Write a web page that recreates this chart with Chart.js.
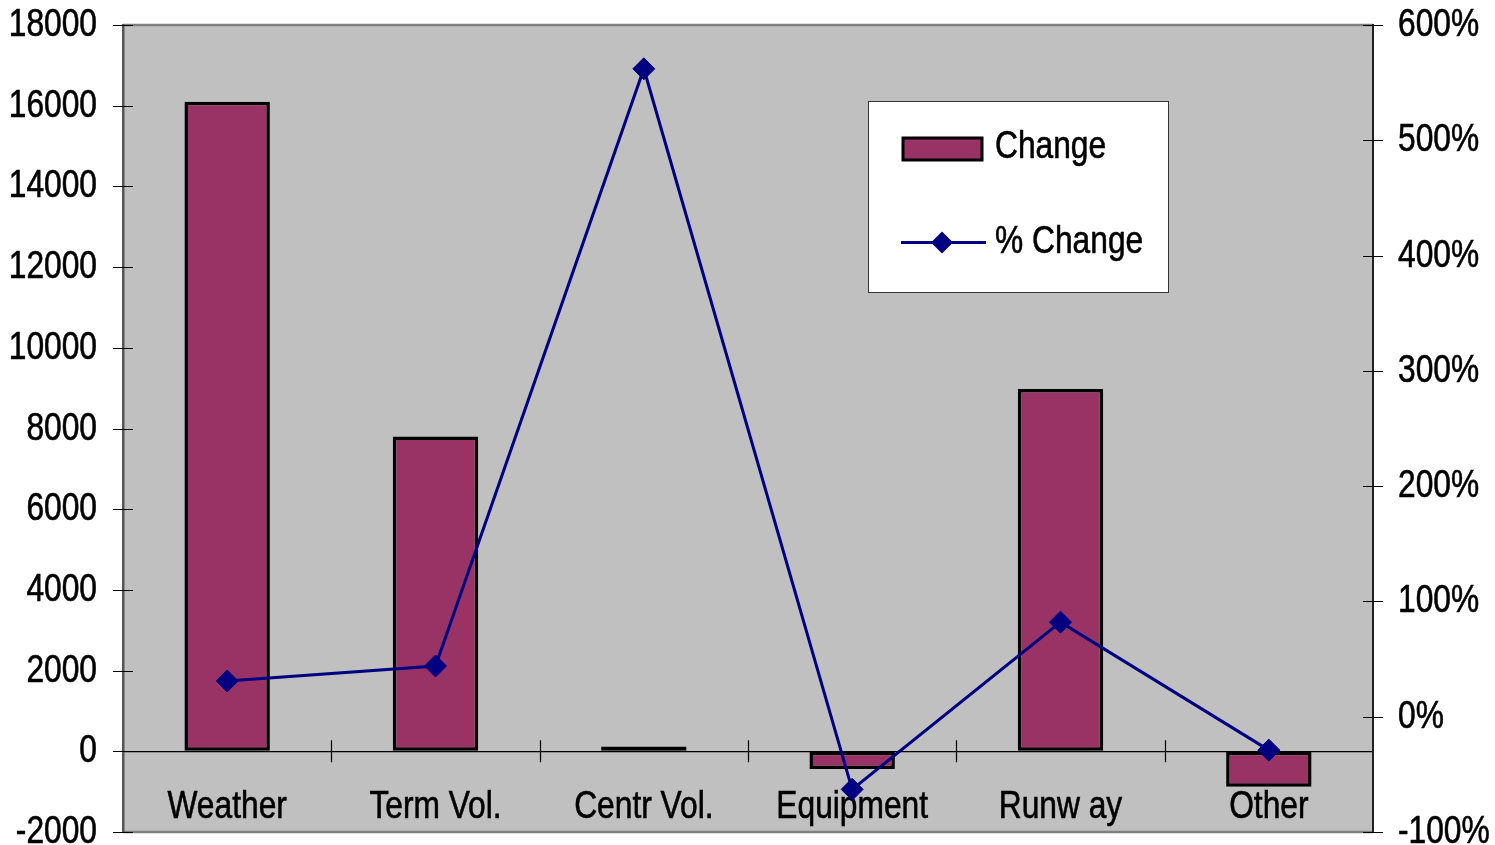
<!DOCTYPE html>
<html>
<head>
<meta charset="utf-8">
<script src="https://cdn.jsdelivr.net/npm/chart.js@4.4.1/dist/chart.umd.min.js"></script>
<style>
  html, body { margin: 0; padding: 0; background: #ffffff; }
  #wrap { width: 1495px; height: 845px; }
</style>
</head>
<body>
<div id="wrap"><canvas id="chart" width="1495" height="845"></canvas></div>
<script>
// Delay causes: absolute change (left axis) and percentage change (right axis)
const categories = ['Weather', 'Term Vol.', 'Centr Vol.', 'Equipment', 'Runw ay', 'Other'];
const changeValues = [16100, 7800, 120, -440, 8980, -880];
const pctChangeValues = [31, 44, 562, -63, 82, -29];

const leftTickValues = [-2000, 0, 2000, 4000, 6000, 8000, 10000, 12000, 14000, 16000, 18000];
const leftTickLabels = ['-2000', '0', '2000', '4000', '6000', '8000', '10000', '12000', '14000', '16000', '18000'];
const rightTickValues = [-100, 0, 100, 200, 300, 400, 500, 600];
const rightTickLabels = ['-100%', '0%', '100%', '200%', '300%', '400%', '500%', '600%'];

const FONT = '38px "Liberation Sans", Arial, sans-serif';
const SQUEEZE = 0.835;   // condensed lettering

// draw horizontally condensed text
function squeezedText(ctx, text, x, y, align) {
  ctx.save();
  ctx.translate(x, y);
  ctx.scale(SQUEEZE, 1);
  ctx.font = FONT;
  ctx.fillStyle = '#000000';
  ctx.strokeStyle = '#000000';
  ctx.lineWidth = 0.6;
  ctx.textAlign = align;
  ctx.textBaseline = 'alphabetic';
  ctx.fillText(text, 0, 0);
  ctx.strokeText(text, 0, 0);
  ctx.restore();
}

const plotFrame = {
  id: 'plotFrame',
  // grey plot background and frame
  beforeDraw(chart) {
    const { ctx, chartArea: a } = chart;
    ctx.save();
    ctx.fillStyle = '#ffffff';
    ctx.fillRect(0, 0, chart.width, chart.height);
    ctx.fillStyle = '#c0c0c0';
    ctx.fillRect(a.left, a.top, a.right - a.left, a.bottom - a.top);
    ctx.strokeStyle = '#808080';
    ctx.lineWidth = 2.5;
    ctx.beginPath();
    ctx.moveTo(a.left, a.top); ctx.lineTo(a.right, a.top);
    ctx.moveTo(a.left, a.bottom); ctx.lineTo(a.right, a.bottom);
    ctx.stroke();
    ctx.restore();
  },
  // tick marks crossing the axis lines, and the axis labels
  beforeDatasetsDraw(chart) {
    const { ctx, scales } = chart;
    const x = scales.x, y = scales.y, y1 = scales.y1;
    ctx.save();
    ctx.strokeStyle = '#000000';
    ctx.lineWidth = 1.2;
    ctx.beginPath();
    leftTickValues.forEach(v => {
      const py = Math.round(y.getPixelForValue(v)) + 0.5;
      ctx.moveTo(y.right - 10, py); ctx.lineTo(y.right + 10, py);
    });
    rightTickValues.forEach(v => {
      const py = Math.round(y1.getPixelForValue(v)) + 0.5;
      ctx.moveTo(y1.left - 10, py); ctx.lineTo(y1.left + 10, py);
    });
    const zero = y.getPixelForValue(0);
    for (let i = 1; i < categories.length; i++) {
      const px = Math.round((x.getPixelForTick(i - 1) + x.getPixelForTick(i)) / 2) + 0.5;
      ctx.moveTo(px, zero - 11); ctx.lineTo(px, zero + 11);
    }
    ctx.stroke();
    ctx.restore();

    leftTickValues.forEach((v, i) => {
      squeezedText(ctx, leftTickLabels[i], y.right - 26, y.getPixelForValue(v) + 11, 'right');
    });
    rightTickValues.forEach((v, i) => {
      squeezedText(ctx, rightTickLabels[i], y1.left + 25, y1.getPixelForValue(v) + 11, 'left');
    });
    categories.forEach((c, i) => {
      squeezedText(ctx, c, x.getPixelForTick(i), zero + 67, 'center');
    });
  },
  // boxed legend inside the plot area
  afterDraw(chart) {
    const { ctx } = chart;
    const bar = chart.data.datasets[0];
    const line = chart.data.datasets[1];
    ctx.save();
    ctx.fillStyle = '#ffffff';
    ctx.fillRect(868, 101.5, 300, 191);
    ctx.strokeStyle = '#333333';
    ctx.lineWidth = 1;
    ctx.strokeRect(868.5, 101.5, 300, 191);

    ctx.fillStyle = bar.backgroundColor;
    ctx.fillRect(903, 138, 79, 22);
    ctx.strokeStyle = bar.borderColor;
    ctx.lineWidth = 3;
    ctx.strokeRect(903, 138, 79, 22);

    ctx.strokeStyle = line.borderColor;
    ctx.lineWidth = 3;
    ctx.beginPath();
    ctx.moveTo(901, 242.5); ctx.lineTo(986, 242.5);
    ctx.stroke();
    ctx.fillStyle = line.pointBackgroundColor;
    ctx.beginPath();
    ctx.moveTo(942, 231.5); ctx.lineTo(953, 242.5); ctx.lineTo(942, 253.5); ctx.lineTo(931, 242.5);
    ctx.closePath();
    ctx.fill();
    ctx.restore();

    squeezedText(ctx, bar.label, 995, 158, 'left');
    squeezedText(ctx, line.label, 995, 253, 'left');
  }
};

new Chart(document.getElementById('chart'), {
  type: 'bar',
  data: {
    labels: categories,
    datasets: [
      {
        type: 'bar',
        label: 'Change',
        data: changeValues,
        yAxisID: 'y',
        backgroundColor: '#993366',
        borderColor: '#000000',
        borderWidth: 3.5,
        borderSkipped: false,
        barPercentage: 0.41,
        categoryPercentage: 1.0,
        order: 2
      },
      {
        type: 'line',
        label: '% Change',
        data: pctChangeValues,
        yAxisID: 'y1',
        borderColor: '#000080',
        borderWidth: 3,
        pointStyle: 'rectRot',
        pointRadius: 11,
        pointBackgroundColor: '#000080',
        pointBorderColor: '#000080',
        pointBorderWidth: 1,
        tension: 0,
        fill: false,
        order: 1
      }
    ]
  },
  options: {
    responsive: false,
    devicePixelRatio: 1,
    animation: false,
    layout: { padding: { top: 25, bottom: 13, left: 0, right: 0 } },
    plugins: {
      legend: { display: false },
      tooltip: { enabled: false },
      title: { display: false }
    },
    scales: {
      x: {
        type: 'category',
        position: { y: 0 },
        offset: true,
        afterFit(s) { s.height = 0; },
        grid: { display: true, offset: true, drawOnChartArea: false, drawTicks: false },
        border: { display: true, color: '#000000', width: 1.2 },
        ticks: { display: false, autoSkip: false }
      },
      y: {
        position: 'left',
        min: -2000,
        max: 18000,
        afterBuildTicks(s) { s.ticks = leftTickValues.map(v => ({ value: v })); },
        afterFit(s) { s.width = 123; },
        grid: { display: true, drawOnChartArea: false, drawTicks: false },
        border: { display: true, color: '#555555', width: 2.5 },
        ticks: { display: false }
      },
      y1: {
        position: 'right',
        min: -100,
        max: 600,
        afterBuildTicks(s) { s.ticks = rightTickValues.map(v => ({ value: v })); },
        afterFit(s) { s.width = 122; },
        grid: { display: true, drawOnChartArea: false, drawTicks: false },
        border: { display: true, color: '#222222', width: 2 },
        ticks: { display: false }
      }
    }
  },
  plugins: [plotFrame]
});
</script>
</body>
</html>
